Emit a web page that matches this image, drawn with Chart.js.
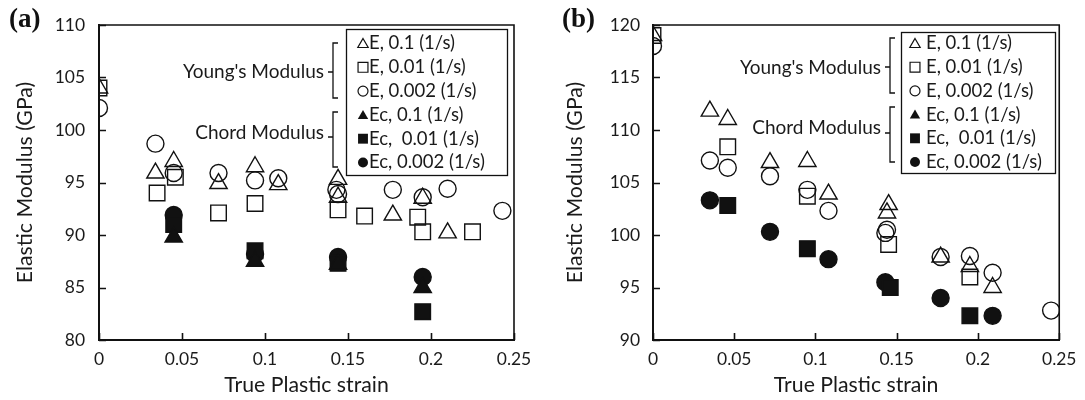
<!DOCTYPE html>
<html>
<head>
<meta charset="utf-8">
<script src="https://cdn.jsdelivr.net/npm/chart.js@4.4.1/dist/chart.umd.min.js"></script>
<style>
    html, body { margin: 0; padding: 0; background: #fff; }
    #wrap { position: relative; width: 1085px; height: 400px; }
    .panel { position: absolute; top: 0; height: 400px; }
</style>
</head>
<body>
<div id="wrap">
    <div class="panel" style="left:0;width:542px"><canvas id="chartA" width="542" height="400"></canvas></div>
    <div class="panel" style="left:542px;width:543px"><canvas id="chartB" width="543" height="400"></canvas></div>
</div>
<script>
// Axis ticks
const strainTicks = [0, 0.05, 0.1, 0.15, 0.2, 0.25];
const modTicksA = [80, 85, 90, 95, 100, 105, 110];
const modTicksB = [90, 95, 100, 105, 110, 115, 120];

const seriesLabels = ['E, 0.1 (1/s)', 'E, 0.01 (1/s)', 'E, 0.002 (1/s)', 'Ec, 0.1 (1/s)', 'Ec,  0.01 (1/s)', 'Ec, 0.002 (1/s)'];

// Panel (a) data
const aE01Strain = [0, 0.034, 0.045, 0.072, 0.094, 0.108, 0.144, 0.144, 0.177, 0.195, 0.21];
const aE01Mod = [104, 95.9, 97.0, 94.9, 96.5, 94.8, 95.3, 93.6, 91.9, 93.5, 90.2];
const aE001Strain = [0, 0.035, 0.046, 0.072, 0.094, 0.144, 0.16, 0.192, 0.195, 0.225];
const aE001Mod = [104, 94.0, 95.5, 92.1, 93.0, 92.4, 91.8, 91.7, 90.3, 90.3];
const aE0002Strain = [0, 0.034, 0.045, 0.072, 0.094, 0.108, 0.143, 0.144, 0.177, 0.195, 0.21, 0.243];
const aE0002Mod = [102.1, 98.7, 95.9, 95.9, 95.2, 95.4, 94.3, 93.9, 94.3, 93.6, 94.4, 92.3];
const aEc01Strain = [0.045, 0.094, 0.144, 0.195];
const aEc01Mod = [89.8, 87.5, 87.2, 85.0];
const aEc001Strain = [0.045, 0.094, 0.144, 0.195];
const aEc001Mod = [91.0, 88.5, 87.3, 82.7];
const aEc0002Strain = [0.045, 0.094, 0.144, 0.195];
const aEc0002Mod = [91.9, 88.2, 87.9, 86.0];

// Panel (b) data
const bE01Strain = [0, 0.035, 0.046, 0.072, 0.095, 0.108, 0.145, 0.144, 0.177, 0.195, 0.209];
const bE01Mod = [119, 111.8, 111.0, 106.9, 107.0, 103.9, 102.9, 102.1, 97.9, 97.0, 95.0];
const bE001Strain = [0, 0.046, 0.095, 0.145, 0.195];
const bE001Mod = [119, 108.4, 103.7, 99.1, 96.0];
const bE0002Strain = [0, 0.035, 0.046, 0.072, 0.095, 0.108, 0.144, 0.143, 0.177, 0.195, 0.209, 0.245];
const bE0002Mod = [118, 107.1, 106.4, 105.6, 104.3, 102.3, 100.5, 100.2, 97.9, 98.0, 96.4, 92.8];
const bEc01Strain = [];
const bEc01Mod = [];
const bEc001Strain = [0.046, 0.095, 0.146, 0.195];
const bEc001Mod = [102.8, 98.7, 95.0, 92.3];
const bEc0002Strain = [0.035, 0.072, 0.108, 0.143, 0.177, 0.209];
const bEc0002Mod = [103.3, 100.3, 97.7, 95.5, 94.0, 92.3];

const FAMILY = 'Lato, "Open Sans", sans-serif';
Chart.defaults.font.family = FAMILY;
Chart.defaults.color = '#1a1a1a';

const INK = '#111';

// pick a font size so that a text comes out about as wide as in the original (Calibri there)
const measureCtx = document.createElement('canvas').getContext('2d');
function fitSize(text, width) {
    measureCtx.font = '100px ' + FAMILY;
    return Math.round(10 * 100 * width / measureCtx.measureText(text).width) / 10;
}
const tickSize = (fitSize('0.05', 35) + fitSize('110', 30)) / 2;
const titleSize = (fitSize('True Plastic strain', 164) + fitSize('Elastic Modulus (GPa)', 202)) / 2;
const legendSize = fitSize('Ec, 0.002 (1/s)', 116);
const bracketSize = fitSize("Young's Modulus", 141);

// marker look per series
const markerStyles = [
    { style: 'triangle', r: 10, filled: false },
    { style: 'rect', r: 11, filled: false },
    { style: 'circle', r: 8.5, filled: false },
    { style: 'triangle', r: 10, filled: true },
    { style: 'rect', r: 11, filled: true },
    { style: 'circle', r: 8.5, filled: true }
];

function makeDatasets(series) {
    return series.map((s, i) => {
        const m = markerStyles[i];
        return {
            label: seriesLabels[i],
            data: s[0].map((x, k) => ({ x: x, y: s[1][k] })),
            pointStyle: m.style,
            pointRadius: m.r,
            pointHoverRadius: m.r,
            pointBorderWidth: 1.4,
            pointBorderColor: INK,
            pointBackgroundColor: m.filled ? INK : 'rgba(0,0,0,0)',
            showLine: false
        };
    });
}

function drawMarker(ctx, style, x, y, r, filled) {
    ctx.beginPath();
    if (style === 'triangle') {
        ctx.moveTo(x, y - r);
        ctx.lineTo(x + r * 0.866, y + r / 2);
        ctx.lineTo(x - r * 0.866, y + r / 2);
        ctx.closePath();
    } else if (style === 'rect') {
        ctx.rect(x - r * 0.707, y - r * 0.707, r * 1.414, r * 1.414);
    } else {
        ctx.arc(x, y, r, 0, Math.PI * 2);
    }
    if (filled) {
        ctx.fillStyle = INK;
        ctx.fill();
    } else {
        ctx.strokeStyle = INK;
        ctx.lineWidth = 1.2;
        ctx.stroke();
    }
}

function drawBracket(ctx, b) {
    ctx.strokeStyle = INK;
    ctx.lineWidth = 1.3;
    ctx.beginPath();
    ctx.moveTo(b.x + 5, b.y0);
    ctx.lineTo(b.x, b.y0);
    ctx.lineTo(b.x, b.y1);
    ctx.lineTo(b.x + 5, b.y1);
    ctx.moveTo(b.x, b.mid);
    ctx.lineTo(b.x - 5, b.mid);
    ctx.stroke();
    ctx.fillStyle = '#1a1a1a';
    ctx.font = bracketSize + 'px ' + FAMILY;
    ctx.textAlign = 'right';
    ctx.textBaseline = 'middle';
    ctx.fillText(b.text, b.x - 9, b.textY);
}

// frame, inward ticks, panel letter, legend with brackets
const decorPlugin = {
    id: 'decor',
    afterDatasetsDraw(chart, args, opts) {
        const ctx = chart.ctx;
        const area = chart.chartArea;
        const xs = chart.scales.x;
        const ys = chart.scales.y;
        ctx.save();

        // top and right frame
        ctx.strokeStyle = INK;
        ctx.lineWidth = 1.6;
        ctx.beginPath();
        ctx.moveTo(area.left, area.top);
        ctx.lineTo(area.right, area.top);
        ctx.lineTo(area.right, area.bottom);
        ctx.stroke();

        // inward tick marks
        ctx.beginPath();
        strainTicks.forEach(v => {
            const px = Math.round(xs.getPixelForValue(v)) + 0.5;
            ctx.moveTo(px, area.bottom);
            ctx.lineTo(px, area.bottom - 7);
        });
        ys.ticks.forEach(t => {
            const py = Math.round(ys.getPixelForValue(t.value)) + 0.5;
            ctx.moveTo(area.left, py);
            ctx.lineTo(area.left + 7, py);
        });
        ctx.stroke();

        // panel letter
        ctx.fillStyle = '#111';
        ctx.font = 'bold 27px "Liberation Serif", "DejaVu Serif", serif';
        ctx.textAlign = 'left';
        ctx.textBaseline = 'alphabetic';
        ctx.fillText(opts.letter, opts.letterX, 27);

        // legend box
        const L = opts.legend;
        ctx.fillStyle = '#fff';
        ctx.fillRect(L.x, L.y, L.w, L.h);
        ctx.strokeStyle = INK;
        ctx.lineWidth = 1.3;
        ctx.strokeRect(L.x + 0.5, L.y + 0.5, L.w, L.h);
        chart.data.datasets.forEach((ds, i) => {
            const m = markerStyles[i];
            const cy = L.row0 + i * L.step;
            const r = m.style === 'triangle' ? 6 : (m.style === 'rect' ? 7 : 5);
            drawMarker(ctx, m.style, L.markerX, cy + (m.style === 'triangle' ? 1 : 0), r, m.filled);
            ctx.fillStyle = '#1a1a1a';
            ctx.font = legendSize + 'px ' + FAMILY;
            ctx.textAlign = 'left';
            ctx.textBaseline = 'middle';
            ctx.fillText(ds.label, L.textX, cy);
        });

        opts.brackets.forEach(b => drawBracket(ctx, b));
        ctx.restore();
    }
};

function makeChart(id, series, yTicks, p) {
    return new Chart(document.getElementById(id), {
        type: 'scatter',
        data: { datasets: makeDatasets(series) },
        options: {
            responsive: false,
            animation: false,
            devicePixelRatio: 1,
            layout: { padding: { left: 0, top: 25, right: p.rightPad, bottom: 0 } },
            plugins: {
                legend: { display: false },
                tooltip: { enabled: false },
                decor: p.decor
            },
            scales: {
                x: {
                    type: 'linear',
                    min: 0,
                    max: 0.25,
                    afterBuildTicks: s => { s.ticks = strainTicks.map(v => ({ value: v })); },
                    afterFit: s => { s.height = 60; },
                    ticks: {
                        padding: Math.max(0, 19 - 0.6 * tickSize),
                        font: { size: tickSize },
                        color: '#1a1a1a',
                        callback: v => String(+v.toFixed(2))
                    },
                    grid: { drawOnChartArea: false, drawTicks: false },
                    border: { display: true, color: INK, width: 2 },
                    title: {
                        display: true,
                        text: 'True Plastic strain',
                        font: { size: titleSize },
                        color: '#1a1a1a',
                        padding: { top: 0, bottom: Math.max(0, 15 - 0.6 * titleSize) }
                    }
                },
                y: {
                    type: 'linear',
                    min: yTicks[0],
                    max: yTicks[yTicks.length - 1],
                    afterBuildTicks: s => { s.ticks = yTicks.map(v => ({ value: v })); },
                    afterFit: s => { s.width = p.yWidth; },
                    ticks: {
                        padding: p.yTickPad,
                        font: { size: tickSize },
                        color: '#1a1a1a'
                    },
                    grid: { drawOnChartArea: false, drawTicks: false },
                    border: { display: true, color: INK, width: 2 },
                    title: {
                        display: true,
                        text: 'Elastic Modulus (GPa)',
                        font: { size: titleSize },
                        color: '#1a1a1a',
                        padding: { top: Math.max(0, p.yTitleX - 0.6 * titleSize), bottom: 0 }
                    }
                }
            }
        },
        plugins: [decorPlugin]
    });
}

makeChart('chartA', [
    [aE01Strain, aE01Mod], [aE001Strain, aE001Mod], [aE0002Strain, aE0002Mod],
    [aEc01Strain, aEc01Mod], [aEc001Strain, aEc001Mod], [aEc0002Strain, aEc0002Mod]
], modTicksA, {
    rightPad: 28, yWidth: 99, yTickPad: 14, yTitleX: 25,
    decor: {
        letter: '(a)', letterX: 9,
        legend: { x: 346, y: 29, w: 161, h: 146, row0: 43.5, step: 23.8, markerX: 363, textX: 369 },
        brackets: [
            { text: "Young's Modulus", x: 333, y0: 43, y1: 98, mid: 72, textY: 72 },
            { text: 'Chord Modulus', x: 333, y0: 112, y1: 167, mid: 137, textY: 133 }
        ]
    }
});

makeChart('chartB', [
    [bE01Strain, bE01Mod], [bE001Strain, bE001Mod], [bE0002Strain, bE0002Mod],
    [bEc01Strain, bEc01Mod], [bEc001Strain, bEc001Mod], [bEc0002Strain, bEc0002Mod]
], modTicksB, {
    rightPad: 20, yWidth: 111, yTickPad: 13, yTitleX: 33.5,
    decor: {
        letter: '(b)', letterX: 20,
        legend: { x: 359, y: 32, w: 154, h: 141, row0: 43.5, step: 23.7, markerX: 373, textX: 384 },
        brackets: [
            { text: "Young's Modulus", x: 348, y0: 38, y1: 93, mid: 67, textY: 68 },
            { text: 'Chord Modulus', x: 348, y0: 107, y1: 162, mid: 133, textY: 128 }
        ]
    }
});
</script>
</body>
</html>
